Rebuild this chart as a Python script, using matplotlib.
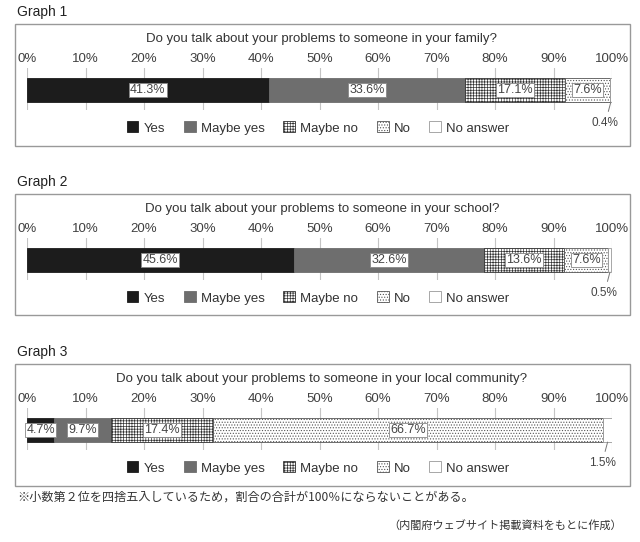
import matplotlib
matplotlib.use("Agg")
import matplotlib.pyplot as plt
from matplotlib.patches import Rectangle, Patch

plt.rcParams['font.family'] = ['Liberation Sans', 'DejaVu Sans']
plt.rcParams['hatch.linewidth'] = 0.5

# データ
categories = ["Yes", "Maybe yes", "Maybe no", "No", "No answer"]
graph_names = ["Graph 1", "Graph 2", "Graph 3"]
questions = [
    "Do you talk about your problems to someone in your family?",
    "Do you talk about your problems to someone in your school?",
    "Do you talk about your problems to someone in your local community?",
]
family = [41.3, 33.6, 17.1, 7.6, 0.4]
school = [45.6, 32.6, 13.6, 7.6, 0.5]
community = [4.7, 9.7, 17.4, 66.7, 1.5]
tick_values = [0, 10, 20, 30, 40, 50, 60, 70, 80, 90, 100]
tick_labels = [f"{v}%" for v in tick_values]
footnote = "※小数第２位を四捨五入しているため，割合の合計が100％にならないことがある。"
source = "（内閣府ウェブサイト掲載資料をもとに作成）"

series = [family, school, community]

# 見た目
facecolors = ["#1c1c1c", "#6e6e6e", "white", "white", "white"]
hatches = [None, None, "++++++", "......", None]
edgecolors = ["#1c1c1c", "#6e6e6e", "#333333", "#555555", "#999999"]

W, H = 640, 542
fig = plt.figure(figsize=(W / 100, H / 100), dpi=100)


def rect(x0, y0, x1, y1):
    return [x0 / W, 1 - y1 / H, (x1 - x0) / W, (y1 - y0) / H]


# 各グラフの位置（ピクセル）
label_y = [12, 182, 352]
box_top = [24, 194, 364]
box_bot = [146, 315, 486]

for g in range(3):
    top = box_top[g]
    vals = series[g]
    fig.text(17 / W, 1 - label_y[g] / H, graph_names[g], fontsize=10,
             va="center", ha="left", color="#222222")
    fig.patches.append(Rectangle((15 / W, 1 - box_bot[g] / H),
                                 (630 - 15) / W, (box_bot[g] - top) / H,
                                 transform=fig.transFigure, fill=False,
                                 edgecolor="#999999", linewidth=1.0))
    fig.text(322 / W, 1 - (top + 15) / H, questions[g], fontsize=9.5,
             ha="center", va="center", color="#333333")

    ax = fig.add_axes(rect(27, top + 44, 612, top + 86))
    left = 0
    segs = []
    for i, v in enumerate(vals):
        ax.barh(0, v, left=left, height=1.0, color=facecolors[i],
                hatch=hatches[i], edgecolor=edgecolors[i], linewidth=0.6,
                zorder=2)
        segs.append((left, v))
        left += v
    for i, (l, v) in enumerate(segs[:-1]):
        ax.text(l + v / 2, 0, f"{v}%", ha="center", va="center", fontsize=9,
                color="#444444", zorder=3,
                bbox=dict(boxstyle="square,pad=0.1", fc="white",
                          ec="#888888", lw=0.6))
    l, v = segs[-1]
    ax.annotate(f"{v}%", xy=(l + v / 2, -0.5), xytext=(-4, -15),
                textcoords="offset points", ha="center", va="center",
                fontsize=8.5, color="#444444",
                arrowprops=dict(arrowstyle="-", color="#777777", lw=0.7,
                                shrinkA=2, shrinkB=0))
    ax.set_xlim(0, 100)
    ax.set_ylim(-0.83, 0.92)
    ax.set_xticks(tick_values)
    ax.set_xticklabels(tick_labels, fontsize=9.5, color="#404040")
    ax.xaxis.tick_top()
    ax.tick_params(axis="x", length=0, pad=2)
    ax.set_yticks([])
    ax.grid(axis="x", color="#c4c4c4", linewidth=0.8)
    ax.set_axisbelow(True)
    for s in ax.spines.values():
        s.set_visible(False)
    ax.patch.set_alpha(0)

    handles = [Patch(facecolor=facecolors[i], hatch=hatches[i],
                     edgecolor=edgecolors[i], linewidth=0.6)
               for i in range(5)]
    fig.legend(handles, categories, loc="center", ncol=5, frameon=False,
               bbox_to_anchor=(318 / W, 1 - (top + 104) / H),
               fontsize=9.5, handlelength=0.9, handleheight=0.9,
               handletextpad=0.4, columnspacing=1.4,
               labelcolor="#333333")

fig.text(17 / W, 1 - 497 / H, footnote, fontsize=8.7, ha="left", va="center",
         family=["Noto Sans CJK JP", "DejaVu Sans"], color="#333333")
fig.text(622 / W, 1 - 525 / H, source, fontsize=8.0, ha="right", va="center",
         family=["Noto Sans CJK JP", "DejaVu Sans"], color="#333333")

fig.savefig("out.png", dpi=100)
